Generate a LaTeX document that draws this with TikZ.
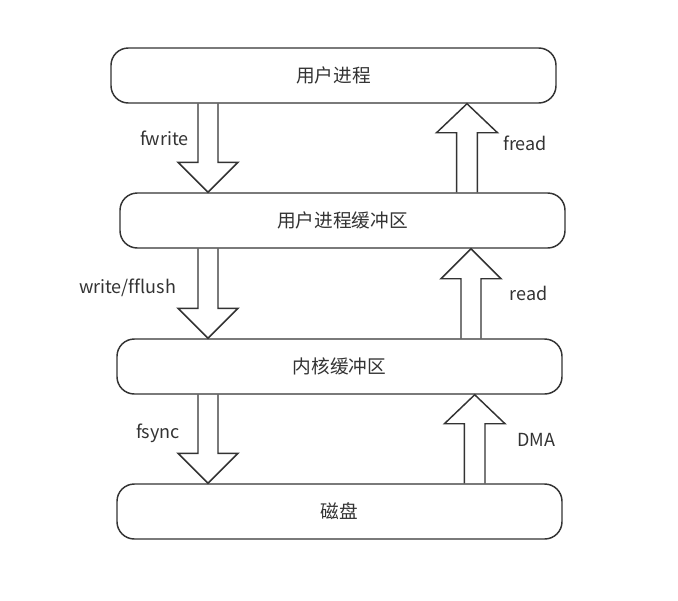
\documentclass[tikz,border=0pt]{standalone}
\usepackage{fontspec}
\setmainfont[Ligatures=NoCommon]{Noto Sans CJK SC}
\usetikzlibrary{calc}
\definecolor{ink}{HTML}{333333}
\tikzset{
  box/.style={draw=ink, line width=1.1pt, rounded corners=13pt, fill=white,
    minimum width=333.75pt, minimum height=41.25pt, inner sep=0pt,
    font=\fontsize{14}{16}\selectfont, text=ink},
  arr/.style={draw=ink, line width=1.1pt, line join=miter},
  lbl/.style={font=\fontsize{13.5}{16}\selectfont, text=ink, inner sep=0pt}
}
% #1 x-coordinate name, #2 start anchor, #3 tip anchor, #4 shaft half width, #5 head half width, #6 head offset
\newcommand\fatarrow[6]{%
  \draw[arr] ($(#2 -| #1)+(-#4,0)$) -- ($(#3 -| #1)+(-#4,#6)$) -- ($(#3 -| #1)+(-#5,#6)$)
    -- (#3 -| #1) -- ($(#3 -| #1)+(#5,#6)$) -- ($(#3 -| #1)+(#4,#6)$) -- ($(#2 -| #1)+(#4,0)$);}
\begin{document}
\begin{tikzpicture}[x=0.75pt, y=-0.75pt]
\useasboundingbox (0,0) rectangle (678,600);
\node[box] (b1) at (333.5,75.5) {用户进程};
\node[box] (b2) at (342.5,220.5) {用户进程缓冲区};
\node[box] (b3) at (339.5,366.5) {内核缓冲区};
\node[box] (b4) at (339.5,511.5) {磁盘};

\coordinate (xd) at (208,0);
\coordinate (xu1) at (467,0);
\coordinate (xu2) at (471,0);
\coordinate (xu3) at (474.7,0);

\fatarrow{xd}{b1.south}{b2.north}{10}{30}{-30}
\fatarrow{xd}{b2.south}{b3.north}{10}{30}{-30}
\fatarrow{xd}{b3.south}{b4.north}{10}{30}{-30}
\fatarrow{xu1}{b2.north}{b1.south}{10.3}{30.5}{29}
\fatarrow{xu2}{b3.north}{b2.south}{10}{30}{30}
\fatarrow{xu3}{b4.north}{b3.south}{10.3}{30.3}{29}

\node[lbl] (l1) at (164.5,138) {fwrite};
\node[lbl] (l2) at (525,143) {fread};
\node[lbl] (l3) at (127.5,288) {write/fflush};
\node[lbl] (l4) at (528.5,293) {read};
\node[lbl] (l5) at (158,433) {fsync};
\node[lbl] (l6) at (536,440) {DMA};
\end{tikzpicture}
\end{document}
